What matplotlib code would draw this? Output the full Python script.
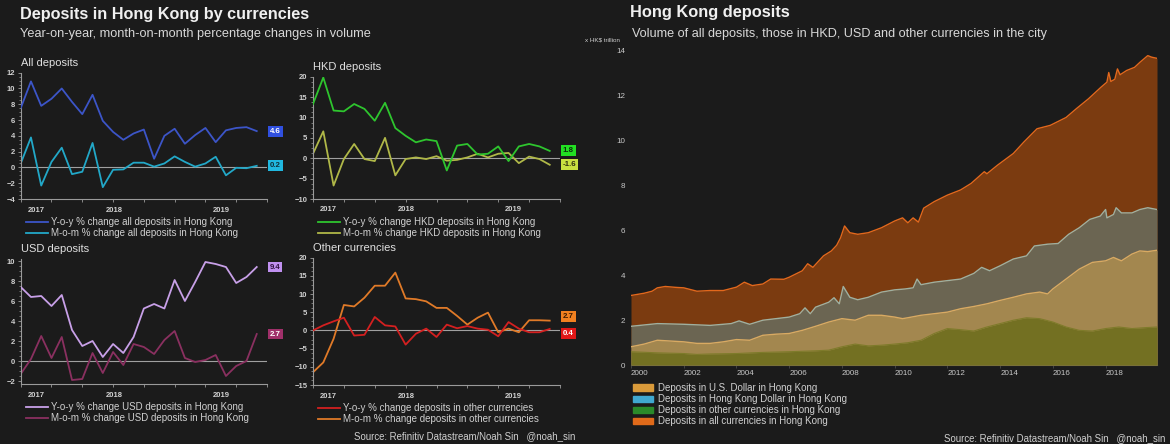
import matplotlib
matplotlib.use("Agg")
import matplotlib.pyplot as plt
import numpy as np
from matplotlib.lines import Line2D
from matplotlib.patches import Patch
from matplotlib.ticker import MultipleLocator, AutoMinorLocator

plt.rcParams['font.family'] = ['Liberation Sans', 'DejaVu Sans']

BG = '#1b1b1b'
W, H = 1170, 444

# ---- small panels: monthly % changes (24 months) ----
all_yoy = [7.5, 10.9, 7.8, 8.7, 10.0, 8.3, 6.75, 9.2, 5.9, 4.5, 3.5, 4.3,
           4.8, 1.1, 4.0, 4.9, 3.0, 4.1, 5.0, 3.2, 4.7, 5.0, 5.1, 4.6]
all_mom = [0.5, 3.8, -2.3, 0.7, 2.5, -0.85, -0.55, 3.1, -2.5, -0.3, -0.25, 0.6,
           0.6, 0.1, 0.5, 1.4, 0.7, 0.1, 0.5, 1.35, -1.0, -0.05, -0.1, 0.2]
hkd_yoy = [13.3, 19.8, 11.7, 11.5, 13.3, 12.1, 9.2, 13.6, 7.4, 5.5, 3.9, 4.6,
           4.2, -3.0, 3.1, 3.5, 0.9, 1.1, 2.9, -0.7, 2.9, 3.5, 2.9, 1.8]
hkd_mom = [1.1, 6.6, -6.7, -0.2, 3.5, -0.2, -0.7, 5.0, -4.2, -0.2, 0.2, -0.2,
           0.5, -0.6, -0.4, 0.2, 1.1, 0.2, 1.1, 1.3, -1.2, 0.4, -0.2, -1.6]
usd_yoy = [7.4, 6.4, 6.5, 5.5, 6.6, 3.1, 1.5, 2.0, 0.4, 1.7, 0.8, 2.4,
           5.25, 5.7, 5.25, 8.1, 6.0, 7.9, 9.9, 9.7, 9.4, 7.8, 8.4, 9.4]
usd_mom = [-1.3, 0.2, 2.5, 0.3, 2.4, -1.9, -1.8, 0.8, -1.2, 0.9, -0.4, 1.7,
           1.4, 0.7, 2.1, 3.0, 0.3, -0.1, 0.1, 0.6, -1.5, -0.5, 0.0, 2.7]
oth_yoy = [0.0, 1.4, 2.5, 3.5, -1.4, -1.2, 3.7, 1.4, 1.1, -3.9, -0.9, 0.5,
           -1.8, 1.6, 0.6, 1.2, 0.5, 0.2, -1.6, 2.3, 0.5, -0.5, -0.5, 0.4]
oth_mom = [-11.5, -8.8, -2.3, 7.0, 6.6, 9.0, 12.3, 12.3, 15.9, 8.8, 8.6, 8.0,
           6.2, 6.2, 4.0, 1.6, 3.5, 4.9, -0.5, 0.5, -0.5, 2.8, 2.8, 2.7]

year_labels = ['2017', '2018', '2019']
year_label_pos = [1.5, 9.1, 19.5]

# ---- big panel: HK$ trillion ----
tot_x = [2000.0, 2000.5, 2000.8, 2001.0, 2001.3, 2001.7, 2002.0, 2002.5, 2003.0, 2003.5,
         2004.0, 2004.3, 2004.6, 2005.0, 2005.3, 2005.8, 2006.0, 2006.5, 2006.7, 2006.9,
         2007.3, 2007.6, 2007.8, 2007.95, 2008.1, 2008.3, 2008.6, 2009.0, 2009.5, 2010.0,
         2010.3, 2010.5, 2010.7, 2010.9, 2011.1, 2011.5, 2012.0, 2012.5, 2012.9, 2013.4,
         2013.5, 2013.9, 2014.5, 2014.9, 2015.4, 2015.9, 2016.5, 2016.9, 2017.35, 2017.83,
         2018.05, 2018.12, 2018.2, 2018.35, 2018.45, 2018.55, 2018.8, 2019.1, 2019.3, 2019.6,
         2019.75, 2019.95]
tot_v = [3.09, 3.19, 3.28, 3.43, 3.49, 3.45, 3.43, 3.28, 3.31, 3.31,
         3.46, 3.68, 3.53, 3.60, 3.82, 3.81, 3.90, 4.19, 4.50, 4.34,
         4.85, 5.07, 5.32, 5.66, 6.18, 5.88, 5.81, 5.88, 6.10, 6.40,
         6.54, 6.32, 6.54, 6.35, 6.97, 7.26, 7.55, 7.78, 8.07, 8.59,
         8.50, 8.88, 9.40, 9.91, 10.50, 10.65, 11.00, 11.40, 11.83, 12.35,
         12.57, 13.00, 12.60, 12.70, 13.16, 12.90, 13.09, 13.23, 13.45, 13.75,
         13.68, 13.63]
hkd_x = [2000.0, 2001.0, 2002.0, 2003.0, 2003.8, 2004.1, 2004.5, 2005.0, 2005.5, 2006.0,
         2006.4, 2006.6, 2006.8, 2007.0, 2007.5, 2007.7, 2007.9, 2008.05, 2008.3, 2008.6,
         2009.0, 2009.5, 2010.0, 2010.4, 2010.7, 2010.85, 2011.0, 2011.5, 2012.0, 2012.5,
         2013.0, 2013.3, 2013.6, 2014.0, 2014.5, 2015.0, 2015.3, 2015.8, 2016.2, 2016.6,
         2017.0, 2017.4, 2017.8, 2018.0, 2018.05, 2018.3, 2018.4, 2018.6, 2019.0, 2019.3,
         2019.6, 2019.95]
hkd_v = [1.72, 1.84, 1.81, 1.76, 1.84, 1.96, 1.81, 1.99, 2.06, 2.13,
         2.28, 2.54, 2.28, 2.57, 2.79, 2.99, 2.72, 3.49, 3.01, 2.90,
         3.01, 3.24, 3.34, 3.38, 3.43, 3.82, 3.57, 3.68, 3.75, 3.82,
         4.07, 4.34, 4.19, 4.41, 4.71, 4.85, 5.29, 5.37, 5.40, 5.81,
         6.10, 6.47, 6.62, 6.91, 6.54, 6.69, 6.99, 6.76, 6.76, 6.91,
         6.99, 6.91]
usd_x = [2000.0, 2000.5, 2001.0, 2002.0, 2002.5, 2003.0, 2003.5, 2004.0, 2004.5, 2005.0,
         2005.5, 2006.0, 2006.5, 2007.0, 2007.5, 2008.0, 2008.5, 2009.0, 2009.5, 2010.0,
         2010.3, 2010.5, 2011.0, 2011.5, 2012.0, 2012.5, 2013.0, 2013.5, 2014.0, 2014.5,
         2015.0, 2015.5, 2015.8, 2016.0, 2016.5, 2017.0, 2017.5, 2018.0, 2018.3, 2018.6,
         2019.0, 2019.3, 2019.6, 2019.95]
usd_v = [0.81, 0.93, 1.10, 1.03, 0.96, 0.96, 1.03, 1.13, 1.10, 1.32,
         1.37, 1.40, 1.54, 1.72, 1.91, 2.06, 1.99, 2.21, 2.21, 2.13,
         2.06, 2.10, 2.21, 2.28, 2.35, 2.50, 2.60, 2.72, 2.87, 3.01,
         3.16, 3.24, 3.16, 3.38, 3.82, 4.26, 4.56, 4.63, 4.78, 4.63,
         4.93, 5.07, 5.04, 5.10]
oth_x = [2000.0, 2001.0, 2002.0, 2002.5, 2003.0, 2004.0, 2005.0, 2006.0, 2007.0, 2007.5,
         2008.0, 2008.5, 2009.0, 2009.5, 2010.0, 2010.5, 2011.0, 2011.5, 2012.0, 2012.5,
         2013.0, 2013.5, 2014.0, 2014.5, 2015.0, 2015.5, 2016.0, 2016.5, 2017.0, 2017.5,
         2018.0, 2018.5, 2019.0, 2019.5, 2019.95]
oth_v = [0.59, 0.54, 0.51, 0.47, 0.49, 0.51, 0.56, 0.59, 0.63, 0.66,
         0.81, 0.93, 0.85, 0.88, 0.93, 0.99, 1.10, 1.40, 1.62, 1.57,
         1.51, 1.69, 1.84, 1.99, 2.10, 2.06, 1.91, 1.69, 1.54, 1.51,
         1.62, 1.69, 1.62, 1.66, 1.69]


def fx(x):
    return x / W


def fy(y):
    return 1 - y / H


fig = plt.figure(figsize=(11.7, 4.44), dpi=100, facecolor=BG)

fig.text(fx(20), fy(15), 'Deposits in Hong Kong by currencies', fontsize=11.7,
         fontweight='bold', color='#f0f0f0', va='center')
fig.text(fx(20), fy(34), 'Year-on-year, month-on-month percentage changes in volume',
         fontsize=9.2, color='#d8d8d8', va='center')


def small_panel(rect, title, yoy, mom, ylim, step, colors, boxes, legend, nudge=(0, 0)):
    ax = fig.add_axes(rect, facecolor=BG)
    x = np.arange(len(yoy))
    ax.axhline(0, color='#a0a0a0', lw=0.8, zorder=1)
    ax.plot(x, yoy, color=colors[0], lw=1.3, zorder=3)
    ax.plot(x, mom, color=colors[1], lw=1.3, zorder=2)
    ax.set_xlim(0, 24)
    ax.set_ylim(*ylim)
    ax.yaxis.set_major_locator(MultipleLocator(step))
    ax.yaxis.set_minor_locator(AutoMinorLocator(4))
    ax.set_xticks(np.arange(0, 25, 3))
    ax.set_xticklabels([])
    for s in ['top', 'right']:
        ax.spines[s].set_visible(False)
    for s in ['left', 'bottom']:
        ax.spines[s].set_color('#9a9a9a')
        ax.spines[s].set_linewidth(0.8)
    ax.tick_params(axis='both', colors='#9a9a9a', labelcolor='#d0d0d0',
                   labelsize=5.5, length=2.5, width=0.6, pad=1.5)
    ax.tick_params(axis='y', which='minor', length=1.5, width=0.5, colors='#9a9a9a')
    for lab in ax.get_yticklabels():
        lab.set_fontweight('bold')
    for lab, pos in zip(year_labels, year_label_pos):
        ax.text(pos, -0.06, lab, transform=ax.get_xaxis_transform(), ha='center',
                va='top', fontsize=5.5, fontweight='bold', color='#d0d0d0')
    ax.text(0, 1.04, title, transform=ax.transAxes, fontsize=8, color='#e0e0e0',
            va='bottom', ha='left')
    for val, (bc, tc), dy in zip([yoy[-1], mom[-1]], boxes, nudge):
        ax.annotate(f'{val:g}', xy=(1.0, val), xycoords=('axes fraction', 'data'),
                    xytext=(2, dy), textcoords='offset points', ha='left', va='center',
                    fontsize=5.7, fontweight='bold', color=tc,
                    bbox=dict(boxstyle='square,pad=0.25', fc=bc, ec='none'))
    x0 = rect[0] * W
    y0 = (1 - rect[1]) * H + 23
    for i, (lab, c) in enumerate(zip(legend, colors)):
        yy = y0 + i * 11
        fig.add_artist(Line2D([fx(x0 + 5), fx(x0 + 27)], [fy(yy), fy(yy)], color=c,
                              lw=1.3, transform=fig.transFigure))
        fig.text(fx(x0 + 30), fy(yy), lab, fontsize=7.0, color='#d0d0d0', va='center')
    return ax


small_panel([fx(20.7), fy(199), 246.3 / W, 126.3 / H], 'All deposits', all_yoy, all_mom,
            (-4, 12), 2, ['#3c55c8', '#22a8c8'],
            [('#3050e0', 'white'), ('#20b8e0', '#10303a')],
            ['Y-o-y % change all deposits in Hong Kong',
             'M-o-m % change all deposits in Hong Kong'])
small_panel([fx(313), fy(199), 247 / W, 122.3 / H], 'HKD deposits', hkd_yoy, hkd_mom,
            (-10, 20), 5, ['#2ec52e', '#b0b848'],
            [('#22e022', '#0c300c'), ('#c8e040', '#303010')],
            ['Y-o-y % change HKD deposits in Hong Kong',
             'M-o-m % change HKD deposits in Hong Kong'])
small_panel([fx(20.7), fy(384), 246.3 / W, 125 / H], 'USD deposits', usd_yoy, usd_mom,
            (-2.3, 10.2), 2, ['#c8a0e8', '#8a3060'],
            [('#c090f0', '#301040'), ('#a0306a', 'white')],
            ['Y-o-y % change USD deposits in Hong Kong',
             'M-o-m % change USD deposits in Hong Kong'])
small_panel([fx(313), fy(385), 247 / W, 127.3 / H], 'Other currencies', oth_yoy, oth_mom,
            (-15, 20), 5, ['#d42020', '#e07a28'],
            [('#e01818', 'white'), ('#f08020', '#3a1a00')],
            ['Y-o-y % change deposits in other currencies',
             'M-o-m % change deposits in other currencies'],
            nudge=(-3, 3))

fig.text(fx(575), fy(436), 'Source: Refinitiv Datastream/Noah Sin   @noah_sin',
         fontsize=6.9, color='#d0d0d0', ha='right', va='center')

# ---- right chart ----
fig.text(fx(630), fy(13), 'Hong Kong deposits', fontsize=11.8, fontweight='bold',
         color='#f0f0f0', va='center')
fig.text(fx(632), fy(34), 'Volume of all deposits, those in HKD, USD and other currencies in the city',
         fontsize=9.1, color='#d8d8d8', va='center')
fig.text(fx(585), fy(40), 'x HK$ trillion', fontsize=4.5, color='#d0d0d0', va='center')

ax = fig.add_axes([fx(631), fy(365), 526 / W, 315 / H], facecolor=BG)
ax.fill_between(tot_x, tot_v, color='#7b3b10', lw=0, zorder=1)
ax.plot(tot_x, tot_v, color='#e3681c', lw=1.0, zorder=2)
ax.fill_between(hkd_x, hkd_v, color='#6b6552', lw=0, zorder=3)
ax.plot(hkd_x, hkd_v, color='#9fb0a0', lw=1.0, zorder=4)
ax.fill_between(usd_x, usd_v, color='#a3874f', lw=0, zorder=5)
ax.plot(usd_x, usd_v, color='#d9aa62', lw=1.0, zorder=6)
ax.fill_between(oth_x, oth_v, color='#737022', lw=0, zorder=7)
ax.plot(oth_x, oth_v, color='#7e7b2a', lw=0.8, zorder=8)
ax.set_xlim(2000, 2019.95)
ax.set_ylim(0, 14)
ax.set_yticks(np.arange(0, 15, 2))
ax.set_xticks(np.arange(2000, 2019, 2))
ax.set_xticklabels([str(y) for y in range(2000, 2019, 2)], ha='left')
for s in ['top', 'right', 'left']:
    ax.spines[s].set_visible(False)
ax.spines['bottom'].set_color('#555555')
ax.tick_params(axis='both', colors='#555555', labelcolor='#c8c8c8', labelsize=5.8,
               length=2, width=0.5, pad=1.5)
ax.tick_params(axis='y', length=0, pad=4)

handles = [Patch(color='#d99a3a'), Patch(color='#40a8d0'), Patch(color='#2a8a2a'),
           Patch(color='#e06a1a')]
labels = ['Deposits in U.S. Dollar in Hong Kong', 'Deposits in Hong Kong Dollar in Hong Kong',
          'Deposits in other currencies in Hong Kong', 'Deposits in all currencies in Hong Kong']
fig.legend(handles, labels, loc='upper left', bbox_to_anchor=(fx(633), fy(383)),
           frameon=False, fontsize=7.0, labelcolor='#d0d0d0', handlelength=2.1,
           handleheight=0.6, labelspacing=0.12, handletextpad=0.5, borderaxespad=0,
           borderpad=0)

fig.text(fx(1165), fy(438), 'Source: Refinitiv Datastream/Noah Sin   @noah_sin',
         fontsize=6.9, color='#d0d0d0', ha='right', va='center')

fig.savefig('out.png', dpi=100, facecolor=BG)
